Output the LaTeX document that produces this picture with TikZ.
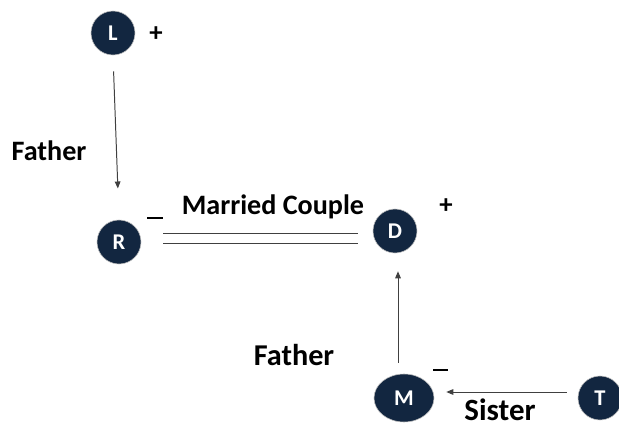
\documentclass[tikz,border=0pt]{standalone}
\usepackage{fontspec}
\setmainfont{Carlito}
\usetikzlibrary{arrows.meta,shapes.geometric,calc}
\definecolor{navy}{RGB}{18,38,64}
\definecolor{linegray}{RGB}{64,64,64}

\begin{document}
\begin{tikzpicture}[x=0.025cm,y=-0.025cm,
  person/.style={ellipse,fill=navy,draw=gray!50,line width=0.4pt,text=white,inner sep=0pt,
    minimum width=1.1cm,minimum height=1.1cm,font=\bfseries\fontsize{16}{16}\selectfont},
  rel/.style={font=\bfseries\fontsize{#1}{#1}\selectfont,inner sep=0pt},
  rel/.default=20,
  sign/.style={font=\bfseries\fontsize{19}{19}\selectfont,inner sep=0pt},
  negmark/.style={rectangle,fill=black,inner sep=0pt,minimum width=0.375cm,minimum height=0.05cm},
  arrow/.style={-{Triangle[length=5pt,width=4pt]},linegray,line width=0.7pt},
  couple/.style={linegray,line width=0.7pt}]
\useasboundingbox (0,0) rectangle (619,427);
% people
\node[person] (L) at (113,33) {L};
\node[person] (R) at (119,242) {R};
\node[person] (D) at (395,231) {D};
\node[person,minimum width=1.5cm,minimum height=1.2cm] (M) at (404,398) {M};
\node[person] (T) at (600,398) {T};
% signs
\node[sign] (Lsign) at (156,34) {+};
\node[sign] (Dsign) at (446,206) {+};
\node[negmark] (Rsign) at (155,218) {};
\node[negmark] (Msign) at (440,370) {};
% relations
\draw[arrow,shorten <=0.4cm,shorten >=0.78cm] (L.south) -- (R.north);
\node[rel] (lbl1) at (49,151) {Father};
\path (R.east) ++(22,-9) coordinate (c1) (R.east) ++(22,1) coordinate (c2);
\draw[couple,shorten >=0.375cm] (c1) -- (c1 -| D.west);
\draw[couple,shorten >=0.375cm] (c2) -- (c2 -| D.west);
\node[rel] (lbl2) at (273,207) {Married Couple};
\draw[arrow,shorten <=0.28cm,shorten >=0.45cm] ([shift={(-6,0)}]M.north) -- ([shift={(3,0)}]D.south);
\node[rel=21.5] (lbl3) at (294,355) {Father};
\draw[arrow,shorten <=0.28cm,shorten >=0.3cm] ([shift={(0,-6)}]T.west) -- ([shift={(0,-6)}]M.east);
\node[rel=22] (lbl4) at (500,410) {Sister};
\end{tikzpicture}
\end{document}
